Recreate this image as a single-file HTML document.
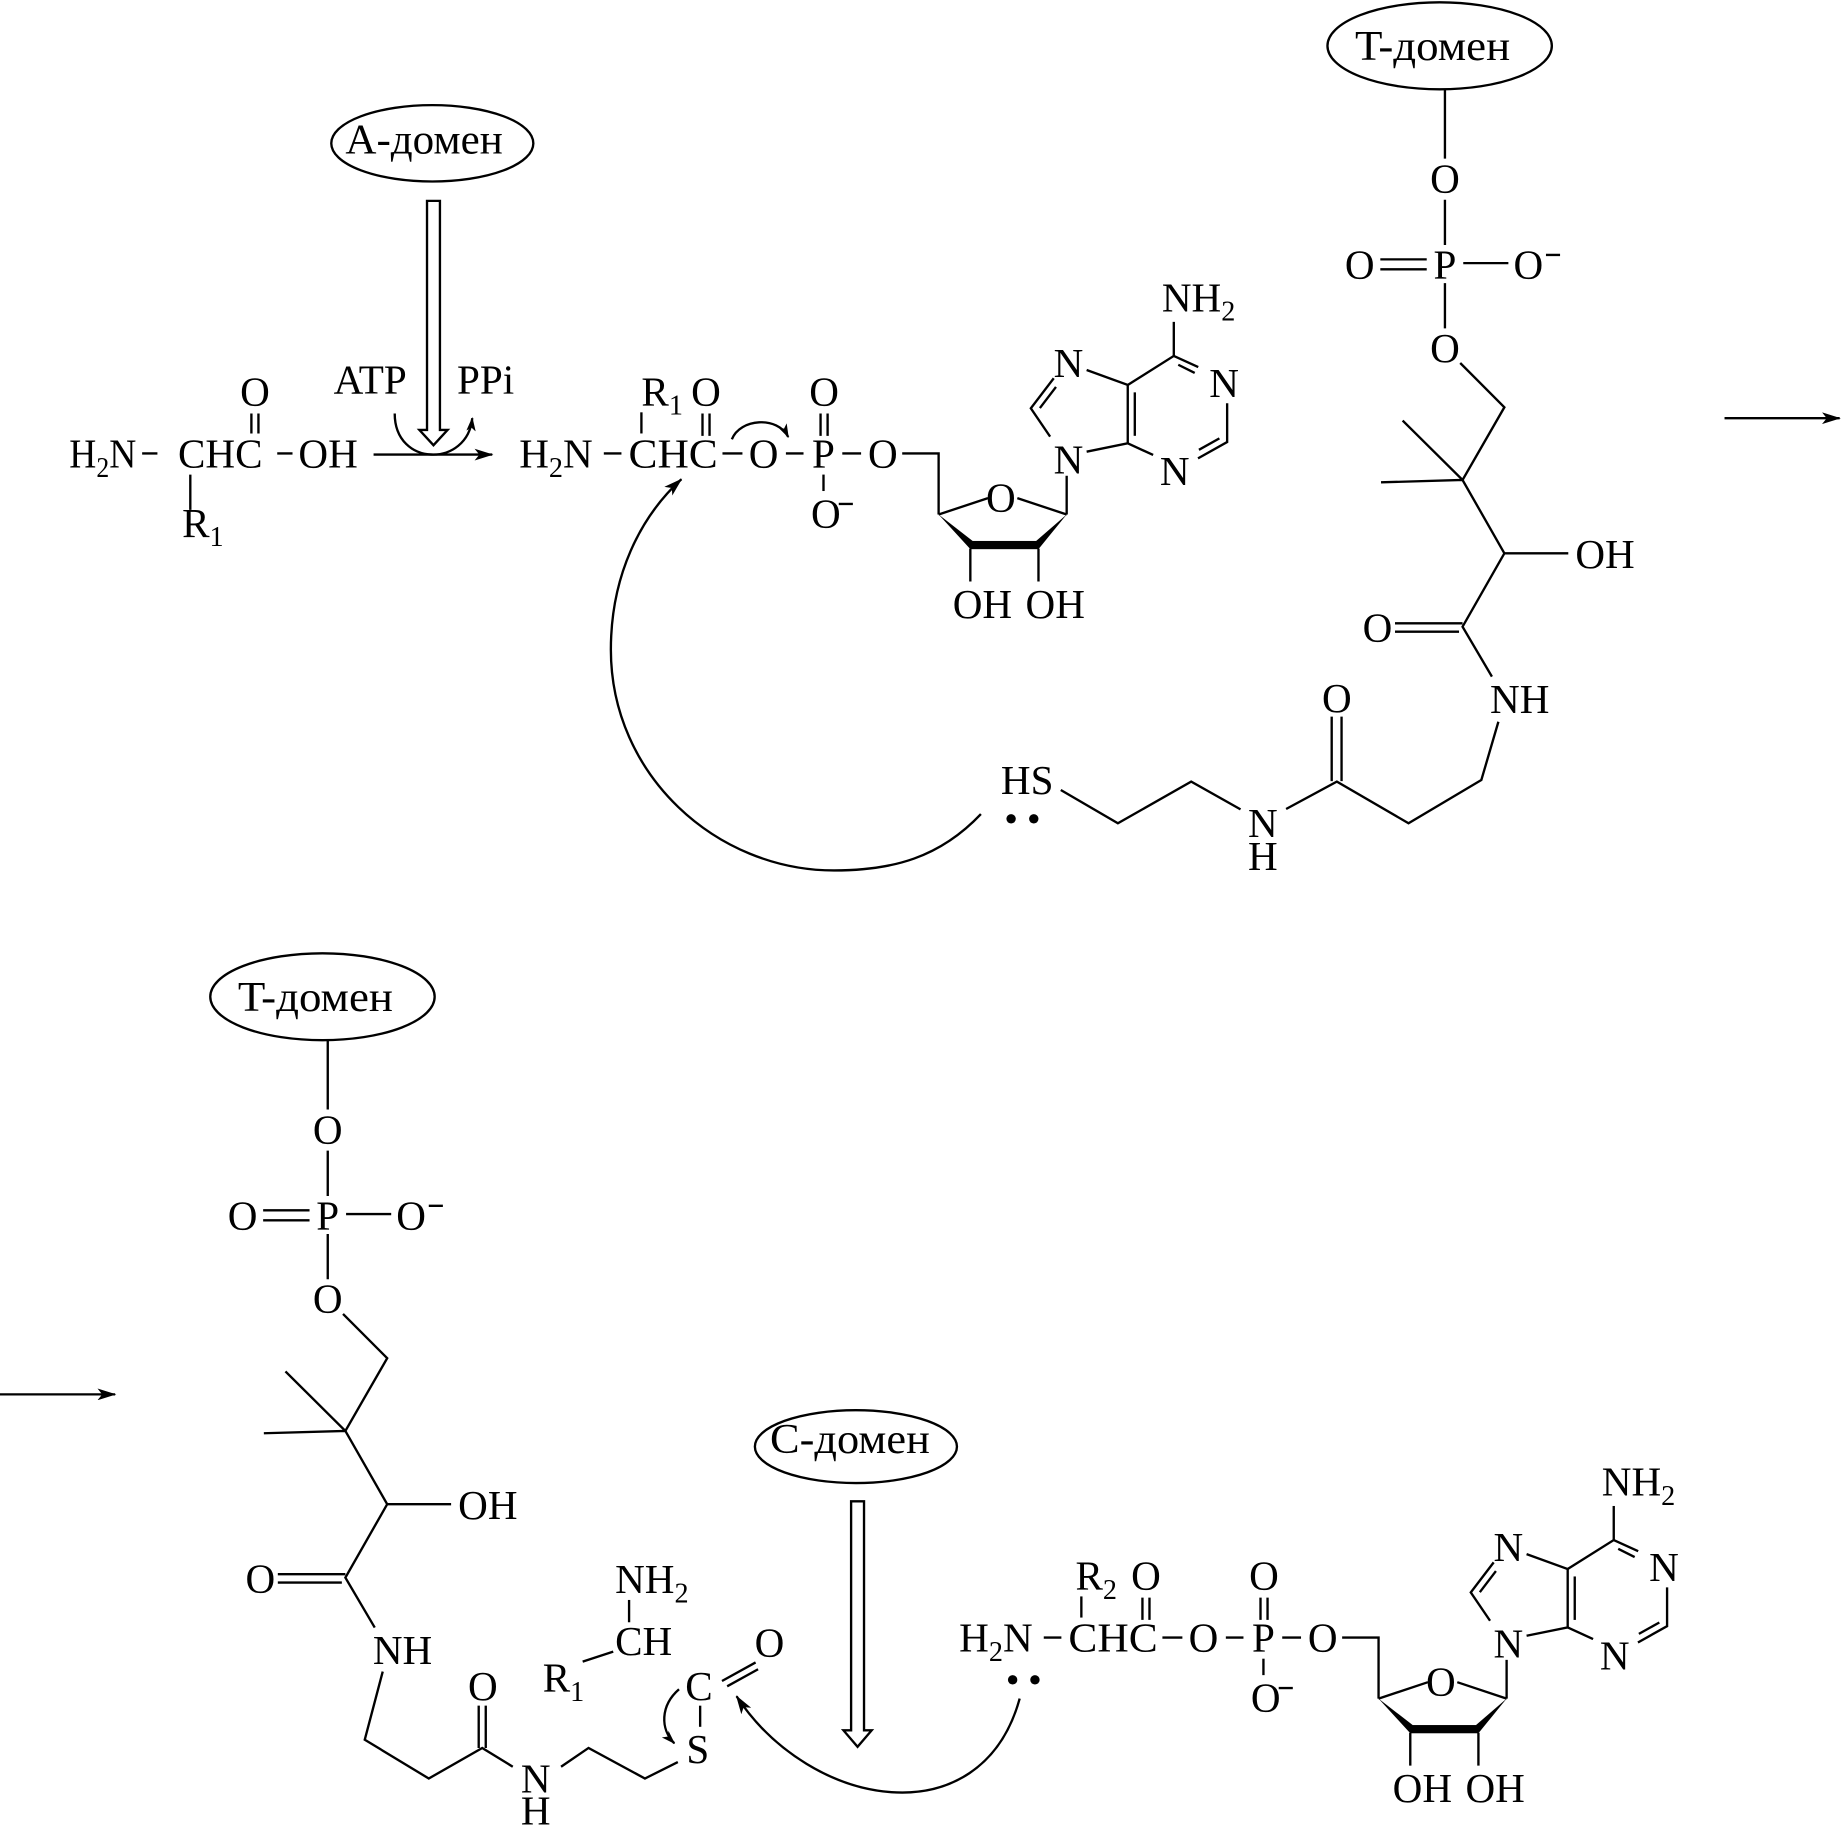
<!DOCTYPE html>
<html><head><meta charset="utf-8">
<style>
html,body{margin:0;padding:0;background:#fff;}
svg{display:block;}
text{font-family:"Liberation Serif","Times New Roman",serif;font-size:35px;fill:#000;stroke:none;}
.dm{font-size:36px;}
</style></head><body>
<svg width="1842" height="1839" viewBox="0 0 1568 1565.5" preserveAspectRatio="none" xmlns="http://www.w3.org/2000/svg">
<defs>
<marker id="ah" viewBox="0 0 16 10" refX="15" refY="5" markerWidth="16" markerHeight="10" orient="auto" markerUnits="userSpaceOnUse"><path d="M0,0 L16,5 L0,10 L4,5 Z" fill="#000" stroke="none"/></marker>
<marker id="ahs" viewBox="0 0 12 8" refX="11" refY="4" markerWidth="12" markerHeight="8" orient="auto" markerUnits="userSpaceOnUse"><path d="M0,0 L12,4 L0,8 L3,4 Z" fill="#000" stroke="none"/></marker>
</defs>

<!-- ================= TOP LEFT: amino acid ================= -->
<g stroke="#000" stroke-width="2" fill="none">
  <path d="M121,386 H134 M236,386 H249 M214,352 V369 M220,352 V369 M162,404 V434"/>
  <ellipse cx="368" cy="122" rx="86" ry="32.5"/>
  <polygon points="363.5,171 374.5,171 374.5,366 381,366 369,379 357,366 363.5,366" fill="#fff"/>
  <path d="M336,352 C336,398 398,398 402,356" marker-end="url(#ahs)"/>
  <path d="M318,387 H419" marker-end="url(#ah)"/>
</g>
<text class="dm" x="294" y="130.5" textLength="134" lengthAdjust="spacingAndGlyphs">A-домен</text>
<text x="59" y="398" textLength="57" lengthAdjust="spacingAndGlyphs">H<tspan font-size="24" dy="8">2</tspan><tspan dy="-8">N</tspan></text>
<text x="151.5" y="398">CHC</text>
<text x="254" y="398">OH</text>
<text x="217" y="345" text-anchor="middle">O</text>
<text x="155" y="457">R<tspan font-size="24" dy="8">1</tspan></text>
<text x="284" y="335">ATP</text>
<text x="389" y="335">PPi</text>

<!-- ================= TOP MIDDLE: aminoacyl-AMP ================= -->
<g>
<g stroke="#000" stroke-width="2" fill="none">
  <path d="M514,386 H529 M615,386 H632 M669,386 H684 M717,386 H733"/>
  <path d="M768,386 H799 V438"/>
  <path d="M546,351 V369"/>
  <path d="M598,352 V371 M604,352 V371"/>
  <path d="M698.5,352 V371 M704.5,352 V371"/>
  <path d="M701,404 V418"/>
  <path d="M714,429 H726"/>
  <path d="M799,438 L841,424 M866,424 L908,438"/>
  <path d="M826,467 V495 M884,467 V495"/>
  <path d="M908,405 V438"/>
  <path d="M893.9,371.7 L877.5,347.6 L897,322"/>
  <path d="M885.2,347.4 L898.9,329.4"/>
  <path d="M925,315 L960,327.7 L960,377.4 L925,384.5"/>
  <path d="M966,334 V371"/>
  <path d="M960,327.7 L999.2,303 L1020,312.5"/>
  <path d="M1003,310.5 L1017,317.5"/>
  <path d="M999.2,303 V274"/>
  <path d="M1044.6,343.3 V376.3 L1019.8,390.2"/>
  <path d="M1038,373.2 L1020.6,382.9"/>
  <path d="M981.6,387.3 L960,377.4"/>
</g>
<polygon points="799,438 828,460.5 826,467.5" fill="#000"/>
<polygon points="908,438 882,460.5 884,467.5" fill="#000"/>
<rect x="826" y="460.5" width="58" height="7" fill="#000"/>
<text x="442" y="398">H<tspan font-size="24" dy="8">2</tspan><tspan dy="-8">N</tspan></text>
<text x="535" y="398" textLength="76" lengthAdjust="spacingAndGlyphs">CHC</text>
<text x="650" y="398" text-anchor="middle">O</text>
<text x="701" y="398" text-anchor="middle">P</text>
<text x="751.5" y="398" text-anchor="middle">O</text>
<text x="546" y="345">R<tspan font-size="24" dy="8">1</tspan></text>
<text x="601" y="345" text-anchor="middle">O</text>
<text x="701.5" y="345" text-anchor="middle">O</text>
<text x="703" y="449" text-anchor="middle">O</text>
<text x="852" y="435.5" text-anchor="middle">O</text>
<text x="811" y="526">OH</text>
<text x="873" y="526">OH</text>
<text x="909.5" y="403" text-anchor="middle">N</text>
<text x="909.5" y="321" text-anchor="middle">N</text>
<text x="1042" y="338" text-anchor="middle">N</text>
<text x="1000" y="413" text-anchor="middle">N</text>
<text x="989" y="265">NH<tspan font-size="24" dy="8">2</tspan></text>
</g>
<g stroke="#000" stroke-width="2" fill="none">
  <path d="M623,374 C630,356 662,354 671,372" marker-end="url(#ahs)"/>
  <path d="M835,693 C800,730 760,741 710,741 C610,741 520,660 520,553 C520,490 545,440 580,408" marker-end="url(#ah)"/>
</g>

<!-- ================= TOP RIGHT: T-domain + pantetheine ================= -->
<g>
<g stroke="#000" stroke-width="2" fill="none">
  <ellipse cx="1225.5" cy="39" rx="95.5" ry="37"/>
  <path d="M1230,76.5 V135 M1230,170 V208.6 M1175,220.8 H1214.5 M1175,229.3 H1214.5 M1245.6,224 H1284 M1316,217 H1328 M1230,241 V279.5"/>
  <path d="M1243,309 L1280.6,346.7 L1245,408.6 L1194,358 M1245,408.6 L1175.6,410.6 M1245,408.6 L1280.6,471 L1335,471 M1280.6,471 L1245,533.5 L1270,576"/>
  <path d="M1187.5,530.6 H1245 M1187.5,537.7 H1242"/>
</g>
<text class="dm" x="1153.5" y="51" textLength="132" lengthAdjust="spacingAndGlyphs">T-домен</text>
<text x="1230" y="164" text-anchor="middle">O</text>
<text x="1230" y="237" text-anchor="middle">P</text>
<text x="1157.5" y="237" text-anchor="middle">O</text>
<text x="1301" y="237" text-anchor="middle">O</text>
<text x="1230" y="308" text-anchor="middle">O</text>
<text x="1341" y="483.5">OH</text>
<text x="1172.6" y="546" text-anchor="middle">O</text>
<text x="1268.4" y="607">NH</text>
</g>
<g stroke="#000" stroke-width="2" fill="none">
  <path d="M1275.5,614.4 L1261,664 L1199,700.8 L1138,665.4 L1094.8,688.7"/>
  <path d="M1133.6,610 V665 M1142,610 V665"/>
  <path d="M1056,689 L1014,665.4 L951.6,700.8 L903,672.5"/>
  <path d="M1468,356 H1566" marker-end="url(#ah)"/>
</g>
<text x="1138" y="606" text-anchor="middle">O</text>
<text x="1075" y="712.5" text-anchor="middle">N</text>
<text x="1075" y="740.6" text-anchor="middle">H</text>
<text x="852" y="676">HS</text>
<circle cx="860.7" cy="697" r="4" fill="#000"/>
<circle cx="880" cy="697" r="4" fill="#000"/>

<!-- ================= BOTTOM LEFT ================= -->
<g stroke="#000" stroke-width="2" fill="none">
  <path d="M0,1187 H98" marker-end="url(#ah)"/>
</g>
<g transform="translate(-951,809.5)">
<g stroke="#000" stroke-width="2" fill="none">
  <ellipse cx="1225.5" cy="39" rx="95.5" ry="37"/>
  <path d="M1230,76.5 V135 M1230,170 V208.6 M1175,220.8 H1214.5 M1175,229.3 H1214.5 M1245.6,224 H1284 M1316,217 H1328 M1230,241 V279.5"/>
  <path d="M1243,309 L1280.6,346.7 L1245,408.6 L1194,358 M1245,408.6 L1175.6,410.6 M1245,408.6 L1280.6,471 L1335,471 M1280.6,471 L1245,533.5 L1270,576"/>
  <path d="M1187.5,530.6 H1245 M1187.5,537.7 H1242"/>
</g>
<text class="dm" x="1153.5" y="51" textLength="132" lengthAdjust="spacingAndGlyphs">T-домен</text>
<text x="1230" y="164" text-anchor="middle">O</text>
<text x="1230" y="237" text-anchor="middle">P</text>
<text x="1157.5" y="237" text-anchor="middle">O</text>
<text x="1301" y="237" text-anchor="middle">O</text>
<text x="1230" y="308" text-anchor="middle">O</text>
<text x="1341" y="483.5">OH</text>
<text x="1172.6" y="546" text-anchor="middle">O</text>
<text x="1268.4" y="607">NH</text>
</g>
<g stroke="#000" stroke-width="2" fill="none">
  <path d="M325.8,1423 L310.5,1481 L365,1514 L410.5,1488 L436.5,1504"/>
  <path d="M407.5,1452 V1488 M413.5,1452 V1488"/>
  <path d="M477.6,1504 L501,1488 L549,1514 L577,1500"/>
  <path d="M596,1452 V1470"/>
  <path d="M614.6,1431 L643.2,1415.2 M619,1435.5 L645.3,1421"/>
  <path d="M535.5,1362 V1381"/>
  <path d="M496,1414.5 L522,1406"/>
  <path d="M578,1438 C562,1452 562,1472 574,1484" marker-end="url(#ahs)"/>
  <path d="M868,1446 C835,1565 690,1540 627,1444" marker-end="url(#ah)"/>
  <ellipse cx="728.6" cy="1231.5" rx="86" ry="31"/>
  <polygon points="724.5,1278 735.5,1278 735.5,1473 742,1473 730,1487 718,1473 724.5,1473" fill="#fff"/>
</g>
<text class="dm" x="655.5" y="1237" textLength="136" lengthAdjust="spacingAndGlyphs">C-домен</text>
<text x="411" y="1447" text-anchor="middle">O</text>
<text x="456" y="1526" text-anchor="middle">N</text>
<text x="456" y="1553" text-anchor="middle">H</text>
<text x="594" y="1501" text-anchor="middle">S</text>
<text x="595" y="1447" text-anchor="middle">C</text>
<text x="655" y="1410" text-anchor="middle">O</text>
<text x="523.6" y="1409">CH</text>
<text x="523.6" y="1356">NH<tspan font-size="24" dy="8">2</tspan></text>
<text x="462" y="1440">R<tspan font-size="24" dy="8">1</tspan></text>
<circle cx="862" cy="1430" r="4" fill="#000"/>
<circle cx="881" cy="1430" r="4" fill="#000"/>

<!-- ================= BOTTOM RIGHT: aminoacyl-AMP (R2) ================= -->
<g transform="translate(374.5,1008)">
<g stroke="#000" stroke-width="2" fill="none">
  <path d="M514,386 H529 M615,386 H632 M669,386 H684 M717,386 H733"/>
  <path d="M768,386 H799 V438"/>
  <path d="M546,351 V369"/>
  <path d="M598,352 V371 M604,352 V371"/>
  <path d="M698.5,352 V371 M704.5,352 V371"/>
  <path d="M701,404 V418"/>
  <path d="M714,429 H726"/>
  <path d="M799,438 L841,424 M866,424 L908,438"/>
  <path d="M826,467 V495 M884,467 V495"/>
  <path d="M908,405 V438"/>
  <path d="M893.9,371.7 L877.5,347.6 L897,322"/>
  <path d="M885.2,347.4 L898.9,329.4"/>
  <path d="M925,315 L960,327.7 L960,377.4 L925,384.5"/>
  <path d="M966,334 V371"/>
  <path d="M960,327.7 L999.2,303 L1020,312.5"/>
  <path d="M1003,310.5 L1017,317.5"/>
  <path d="M999.2,303 V274"/>
  <path d="M1044.6,343.3 V376.3 L1019.8,390.2"/>
  <path d="M1038,373.2 L1020.6,382.9"/>
  <path d="M981.6,387.3 L960,377.4"/>
</g>
<polygon points="799,438 828,460.5 826,467.5" fill="#000"/>
<polygon points="908,438 882,460.5 884,467.5" fill="#000"/>
<rect x="826" y="460.5" width="58" height="7" fill="#000"/>
<text x="442" y="398">H<tspan font-size="24" dy="8">2</tspan><tspan dy="-8">N</tspan></text>
<text x="535" y="398" textLength="76" lengthAdjust="spacingAndGlyphs">CHC</text>
<text x="650" y="398" text-anchor="middle">O</text>
<text x="701" y="398" text-anchor="middle">P</text>
<text x="751.5" y="398" text-anchor="middle">O</text>
<text x="541" y="345">R<tspan font-size="24" dy="8">2</tspan></text>
<text x="601" y="345" text-anchor="middle">O</text>
<text x="701.5" y="345" text-anchor="middle">O</text>
<text x="703" y="449" text-anchor="middle">O</text>
<text x="852" y="435.5" text-anchor="middle">O</text>
<text x="811" y="526">OH</text>
<text x="873" y="526">OH</text>
<text x="909.5" y="403" text-anchor="middle">N</text>
<text x="909.5" y="321" text-anchor="middle">N</text>
<text x="1042" y="338" text-anchor="middle">N</text>
<text x="1000" y="413" text-anchor="middle">N</text>
<text x="989" y="265">NH<tspan font-size="24" dy="8">2</tspan></text>
</g>
</svg>
</body></html>
